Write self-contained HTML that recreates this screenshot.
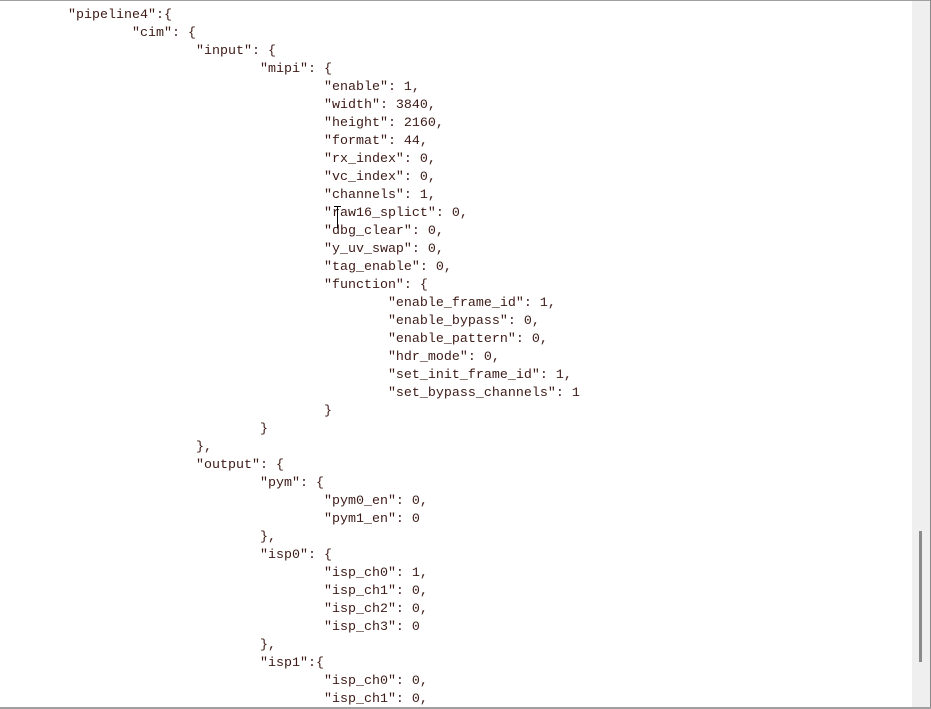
<!DOCTYPE html>
<html><head><meta charset="utf-8"><style>
html,body{margin:0;padding:0;width:931px;height:709px;overflow:hidden;background:#fff;}
.top{position:absolute;left:0;top:0;width:931px;height:1px;background:#a0a0a0;}
.right{position:absolute;right:0;top:0;width:1px;height:709px;background:#888;}
.bot{position:absolute;left:0;top:707px;width:931px;height:2px;background:#a0a0a0;}
.sb{position:absolute;left:912px;top:1px;width:18px;height:706px;background:#efefef;}
.th{position:absolute;left:919px;top:531px;width:3px;height:131px;background:#8a8a8a;}
pre{position:absolute;left:68px;top:7px;margin:0;font-family:"Liberation Mono",monospace;font-size:13.33px;line-height:18px;color:#3c1a16;tab-size:8;}
.cur{position:absolute;left:337px;top:206px;width:1px;height:22px;background:#000;}
.cur2{position:absolute;left:334px;top:206px;width:7px;height:1px;background:#000;}
</style></head><body>
<div class="top"></div><div class="sb"></div><div class="th"></div><div class="right"></div><div class="bot"></div>
<pre>"pipeline4":{
	"cim": {
		"input": {
			"mipi": {
				"enable": 1,
				"width": 3840,
				"height": 2160,
				"format": 44,
				"rx_index": 0,
				"vc_index": 0,
				"channels": 1,
				"raw16_splict": 0,
				"dbg_clear": 0,
				"y_uv_swap": 0,
				"tag_enable": 0,
				"function": {
					"enable_frame_id": 1,
					"enable_bypass": 0,
					"enable_pattern": 0,
					"hdr_mode": 0,
					"set_init_frame_id": 1,
					"set_bypass_channels": 1
				}
			}
		},
		"output": {
			"pym": {
				"pym0_en": 0,
				"pym1_en": 0
			},
			"isp0": {
				"isp_ch0": 1,
				"isp_ch1": 0,
				"isp_ch2": 0,
				"isp_ch3": 0
			},
			"isp1":{
				"isp_ch0": 0,
				"isp_ch1": 0,
</pre>
<div class="cur"></div><div class="cur2"></div>
</body></html>
